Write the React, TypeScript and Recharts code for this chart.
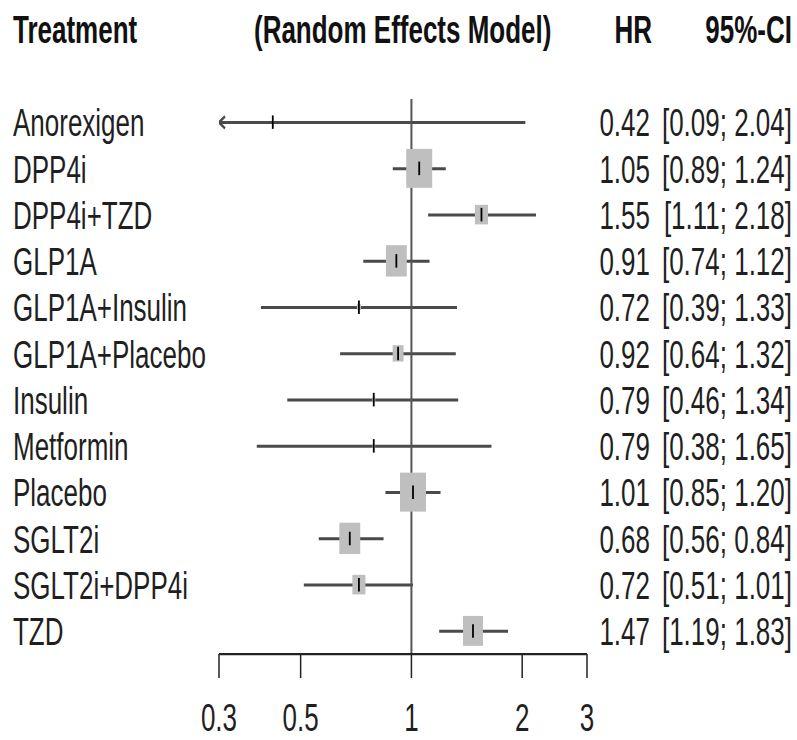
import { ComposedChart, Bar, Line, XAxis, YAxis, ReferenceLine } from 'recharts';

const treatments = [
  'Anorexigen',
  'DPP4i',
  'DPP4i+TZD',
  'GLP1A',
  'GLP1A+Insulin',
  'GLP1A+Placebo',
  'Insulin',
  'Metformin',
  'Placebo',
  'SGLT2i',
  'SGLT2i+DPP4i',
  'TZD',
];
const hazardRatios = [0.42, 1.05, 1.55, 0.91, 0.72, 0.92, 0.79, 0.79, 1.01, 0.68, 0.72, 1.47];
const ciLower = [0.09, 0.89, 1.11, 0.74, 0.39, 0.64, 0.46, 0.38, 0.85, 0.56, 0.51, 1.19];
const ciUpper = [2.04, 1.24, 2.18, 1.12, 1.33, 1.32, 1.34, 1.65, 1.2, 0.84, 1.01, 1.83];
// random-effects weights (%), drive the size of the grey boxes
const weights = [0.05, 17, 4.3, 11, 0.4, 3, 0.25, 0.2, 17, 11, 4.3, 10];
const xTicks = [0.3, 0.5, 1, 2, 3];

const X_MIN = 0.3;
const X_MAX = 3;

const data = treatments.map((name, i) => ({
  name,
  hr: hazardRatios[i],
  lo: ciLower[i],
  hi: ciUpper[i],
  weight: weights[i],
  ci: [Math.max(ciLower[i], X_MIN), Math.min(ciUpper[i], X_MAX)],
}));

// original figure is stretched vertically, so everything is drawn flat and scaled
const STRETCH = 1.5;
const WIDTH = 797;
const HEIGHT = 493;
const FONT = '"Liberation Sans", Arial, Helvetica, sans-serif';
const textColor = '#1f1f1f';
const lineColor = '#4a4a4a';
const boxColor = '#bfbfbf';

function CiLine(props: any) {
  const { x, y, width, height, payload } = props;
  const cy = y + height / 2;
  return (
    <g>
      <line x1={x} x2={x + width} y1={cy} y2={cy} stroke={lineColor} strokeWidth={2} />
      {payload.lo < X_MIN && (
        <polyline
          points={`${x + 6},${cy - 4} ${x},${cy} ${x + 6},${cy + 4}`}
          fill="none"
          stroke={lineColor}
          strokeWidth={2}
        />
      )}
      {payload.hi > X_MAX && (
        <polyline
          points={`${x + width - 6},${cy - 4} ${x + width},${cy} ${x + width - 6},${cy + 4}`}
          fill="none"
          stroke={lineColor}
          strokeWidth={2}
        />
      )}
    </g>
  );
}

function renderEstimate(props: any) {
  const { cx, cy, payload, index } = props;
  const size = 6.3 * Math.sqrt(payload.weight);
  return (
    <g key={`est-${index}`}>
      <rect x={cx - size / 2} y={cy - size / 2} width={size} height={size} fill={boxColor} />
      <line x1={cx} x2={cx} y1={cy - 4.5} y2={cy + 4.5} stroke="#000" strokeWidth={1.8} />
    </g>
  );
}

function RowTick(props: any) {
  const { y, payload } = props;
  const d = data.find((row) => row.name === payload?.value);
  if (!d) return null;
  const base = y + 9.5;
  return (
    <g>
      <text x={13} y={base} textAnchor="start" fontFamily={FONT} fontSize={26} fill={textColor}>
        {d.name}
      </text>
      <text x={650} y={base} textAnchor="end" fontFamily={FONT} fontSize={26} fill={textColor}>
        {d.hr.toFixed(2)}
      </text>
      <text x={792} y={base} textAnchor="end" fontFamily={FONT} fontSize={26} fill={textColor}>
        {`[${d.lo.toFixed(2)}; ${d.hi.toFixed(2)}]`}
      </text>
    </g>
  );
}

function Header() {
  return (
    <svg
      width={WIDTH}
      height={40}
      style={{ position: 'absolute', left: 0, top: 0 }}
      fontFamily={FONT}
      fontSize={26}
      fontWeight="bold"
      fill="#111"
    >
      <text x={13} y={28.7}>Treatment</text>
      <text x={254} y={28.7}>(Random Effects Model)</text>
      <text x={652} y={28.7} textAnchor="end">HR</text>
      <text x={792} y={28.7} textAnchor="end">95%-CI</text>
    </svg>
  );
}

export default function App() {
  return (
    <div
      style={{
        position: 'absolute',
        left: 0,
        top: 0,
        width: WIDTH,
        height: 740,
        overflow: 'hidden',
        background: '#fff',
      }}
    >
      <div
        style={{
          position: 'relative',
          width: WIDTH,
          height: HEIGHT,
          transform: `scaleY(${STRETCH})`,
          transformOrigin: '0 0',
        }}
      >
        <ComposedChart
          layout="vertical"
          width={WIDTH}
          height={HEIGHT}
          data={data}
          margin={{ top: 66, right: 210, bottom: 0, left: 209 }}
        >
          <XAxis
            type="number"
            scale="log"
            domain={[X_MIN, X_MAX]}
            ticks={xTicks}
            allowDataOverflow
            interval={0}
            height={57}
            tickSize={16}
            tickMargin={17}
            tickFormatter={(v: number) => String(v)}
            tick={{ fontSize: 26, fontFamily: FONT, fill: textColor }}
            axisLine={{ stroke: '#222', strokeWidth: 1.5 }}
            tickLine={{ stroke: '#222', strokeWidth: 1.5 }}
          />
          <YAxis
            type="category"
            dataKey="name"
            width={10}
            interval={0}
            axisLine={false}
            tickLine={false}
            tick={<RowTick />}
          />
          <ReferenceLine x={1} stroke="#555" strokeWidth={2} />
          <Bar dataKey="ci" shape={<CiLine />} isAnimationActive={false} legendType="none" />
          <Line
            dataKey="hr"
            stroke="none"
            dot={renderEstimate}
            activeDot={false}
            isAnimationActive={false}
            legendType="none"
          />
        </ComposedChart>
        <Header />
      </div>
    </div>
  );
}
